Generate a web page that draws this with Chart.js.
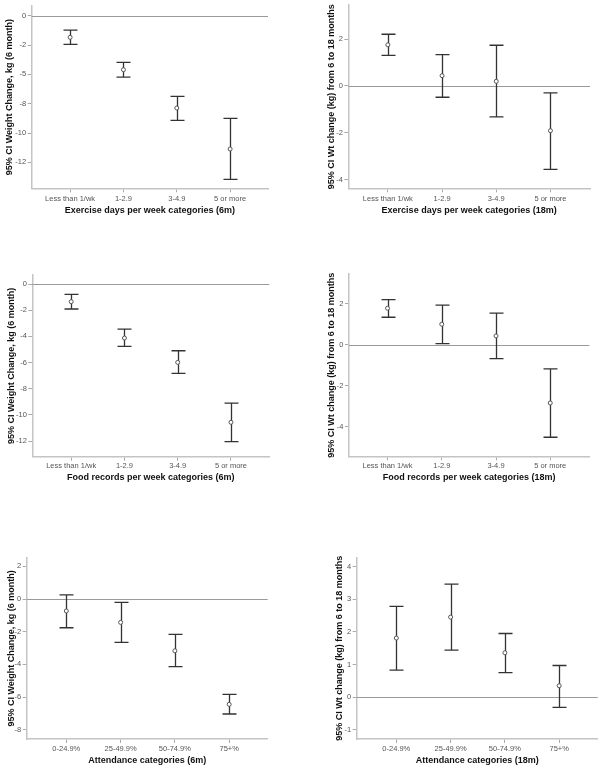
<!DOCTYPE html>
<html>
<head>
<meta charset="utf-8">
<script src="https://cdn.jsdelivr.net/npm/chart.js@4.4.0/dist/chart.umd.min.js"></script>
<style>
  body { margin: 0; background: #fff; width: 605px; height: 773px; position: relative; overflow: hidden; }
  .box { position: absolute; }
  canvas { display: block; }
</style>
</head>
<body>
<div class="box" id="b1"><canvas id="c1"></canvas></div>
<div class="box" id="b2"><canvas id="c2"></canvas></div>
<div class="box" id="b3"><canvas id="c3"></canvas></div>
<div class="box" id="b4"><canvas id="c4"></canvas></div>
<div class="box" id="b5"><canvas id="c5"></canvas></div>
<div class="box" id="b6"><canvas id="c6"></canvas></div>
<script>
// categories
var weekCats = ["Less than 1/wk", "1-2.9", "3-4.9", "5 or more"];
var attendCats = ["0-24.9%", "25-49.9%", "50-74.9%", "75+%"];

// exercise, 6 months
var exercise6mMean = [-1.84, -4.60, -7.87, -11.36];
var exercise6mLow = [-2.44, -5.23, -8.92, -13.95];
var exercise6mHigh = [-1.22, -3.97, -6.87, -8.75];

// exercise, 18 months
var exercise18mMean = [1.76, 0.44, 0.20, -1.91];
var exercise18mLow = [1.31, -0.48, -1.32, -3.56];
var exercise18mHigh = [2.21, 1.34, 1.74, -0.29];

// food records, 6 months
var food6mMean = [-1.35, -4.13, -5.99, -10.57];
var food6mLow = [-1.91, -4.76, -6.83, -12.05];
var food6mHigh = [-0.79, -3.44, -5.10, -9.10];

// food records, 18 months
var food18mMean = [1.79, 1.01, 0.44, -2.83];
var food18mLow = [1.35, 0.06, -0.67, -4.50];
var food18mHigh = [2.21, 1.94, 1.55, -1.17];

// attendance, 6 months
var attend6mMean = [-0.73, -1.43, -3.17, -6.45];
var attend6mLow = [-1.76, -2.65, -4.14, -7.04];
var attend6mHigh = [0.26, -0.20, -2.16, -5.84];

// attendance, 18 months
var attend18mMean = [1.81, 2.45, 1.36, 0.35];
var attend18mLow = [0.83, 1.44, 0.75, -0.31];
var attend18mHigh = [2.78, 3.46, 1.95, 0.97];

// y tick values and their printed labels
var exercise6mTicks = [-12.5, -10, -7.5, -5, -2.5, 0];
var exercise6mTickLabels = ["-12", "-10", "-8", "-5", "-2", "0"];
var exercise18mTicks = [-4, -2, 0, 2];
var food6mTicks = [-12, -10, -8, -6, -4, -2, 0];
var food18mTicks = [-4, -2, 0, 2];
var attend6mTicks = [-8, -6, -4, -2, 0, 2];
var attend18mTicks = [-1, 0, 1, 2, 3, 4];

var FONT = "Arial, 'Liberation Sans', sans-serif";
var TICK_SIZE = 7.5, TITLE_SIZE = 9;

function errorBars(low, high) {
  return {
    id: "errorBars",
    beforeDatasetsDraw: function (chart) {
      var ctx = chart.ctx, xs = chart.scales.x, ys = chart.scales.y, a = chart.chartArea;
      ctx.save();
      // reference line at zero
      var y0 = Math.round(ys.getPixelForValue(0)) + 0.5;
      ctx.strokeStyle = "#9a9a9a";
      ctx.lineWidth = 1.2;
      ctx.beginPath();
      ctx.moveTo(a.left, y0);
      ctx.lineTo(a.right, y0);
      ctx.stroke();
      // whiskers
      ctx.strokeStyle = "#333";
      ctx.lineWidth = 1.3;
      for (var i = 0; i < low.length; i++) {
        var px = Math.round(xs.getPixelForValue(i)) + 0.5;
        var pl = ys.getPixelForValue(low[i]);
        var ph = ys.getPixelForValue(high[i]);
        ctx.beginPath();
        ctx.moveTo(px, pl); ctx.lineTo(px, ph);
        ctx.moveTo(px - 7, pl); ctx.lineTo(px + 7, pl);
        ctx.moveTo(px - 7, ph); ctx.lineTo(px + 7, ph);
        ctx.stroke();
      }
      ctx.restore();
    }
  };
}

function makeChart(n, cats, mean, low, high, yTicks, yLabels, xTitle, yTitle, lay) {
  var box = lay.box, plot = lay.plot;
  var div = document.getElementById("b" + n);
  div.style.left = box[0] + "px";
  div.style.top = box[1] + "px";
  var canvas = document.getElementById("c" + n);
  canvas.width = box[2];
  canvas.height = box[3];

  var yAxisW = plot[0] - box[0];
  var xAxisH = box[1] + box[3] - plot[3];
  var lh = TITLE_SIZE * 1.2;
  var tickLh = TICK_SIZE * 1.2;

  new Chart(canvas.getContext("2d"), {
    type: "scatter",
    data: {
      datasets: [{
        data: mean.map(function (m, i) { return { x: i, y: m }; }),
        pointStyle: "circle",
        pointRadius: 2,
        pointHoverRadius: 2,
        borderColor: "#555",
        backgroundColor: "#fff",
        borderWidth: 1
      }]
    },
    plugins: [errorBars(low, high)],
    options: {
      responsive: false,
      animation: false,
      events: [],
      layout: {
        padding: { top: plot[1] - box[1], right: box[0] + box[2] - plot[2], left: 0, bottom: 0 }
      },
      plugins: { legend: { display: false }, tooltip: { enabled: false } },
      scales: {
        x: {
          type: "linear",
          min: lay.x[0],
          max: lay.x[1],
          afterBuildTicks: function (s) { s.ticks = cats.map(function (c, i) { return { value: i }; }); },
          afterFit: function (s) { s.height = xAxisH; s.paddingLeft = 0; s.paddingRight = 0; },
          grid: { drawOnChartArea: false, drawTicks: true, tickLength: 4, color: "#aaa" },
          border: { color: "#c4c4c4", width: 1.5 },
          ticks: {
            autoSkip: false,
            maxRotation: 0,
            padding: lay.xTickY - plot[3] - 4 - tickLh / 2,
            color: "#555",
            font: { family: FONT, size: TICK_SIZE },
            callback: function (v, i) { return cats[i]; }
          },
          title: {
            display: true,
            text: xTitle,
            color: "#111",
            font: { family: FONT, size: TITLE_SIZE, weight: "bold" },
            padding: { top: 0, bottom: box[1] + box[3] - lay.xTitleY - lh / 2 }
          }
        },
        y: {
          type: "linear",
          min: lay.y[0],
          max: lay.y[1],
          afterBuildTicks: function (s) { s.ticks = yTicks.map(function (v) { return { value: v }; }); },
          afterFit: function (s) { s.width = yAxisW; s.paddingTop = 0; s.paddingBottom = 0; },
          grid: { drawOnChartArea: false, drawTicks: true, tickLength: 4, color: "#aaa" },
          border: { color: "#c4c4c4", width: 1.5 },
          ticks: {
            padding: 1.5,
            color: "#555",
            font: { family: FONT, size: TICK_SIZE },
            callback: function (v, i) { return yLabels ? yLabels[i] : String(v); }
          },
          title: {
            display: true,
            text: yTitle,
            color: "#111",
            font: { family: FONT, size: TITLE_SIZE, weight: "bold" },
            padding: { top: lay.yTitleX - box[0] - lh / 2, bottom: 0 }
          }
        }
      }
    }
  });
}

var t6 = "95% CI Weight Change, kg (6 month)";
var t18 = "95% CI Wt change (kg) from 6 to 18 months";

makeChart(1, weekCats, exercise6mMean, exercise6mLow, exercise6mHigh,
  exercise6mTicks, exercise6mTickLabels, "Exercise days per week categories (6m)", t6,
  { box: [0, 0, 300, 220], plot: [31.7, 6, 268, 188.3], x: [-0.72, 3.71], y: [-14.71, 0.83], xTickY: 199, xTitleY: 211, yTitleX: 10 });

makeChart(2, weekCats, exercise18mMean, exercise18mLow, exercise18mHigh,
  exercise18mTicks, null, "Exercise days per week categories (18m)", t18,
  { box: [300, 0, 305, 220], plot: [348.3, 5, 590, 188.3], x: [-0.73, 3.73], y: [-4.37, 3.46], xTickY: 199, xTitleY: 211, yTitleX: 331.7 });

makeChart(3, weekCats, food6mMean, food6mLow, food6mHigh,
  food6mTicks, null, "Food records per week categories (6m)", t6,
  { box: [0, 260, 300, 230], plot: [32.3, 275, 269.3, 456.7], x: [-0.73, 3.72], y: [-13.2, 0.69], xTickY: 465.7, xTitleY: 478, yTitleX: 11.7 });

makeChart(4, weekCats, food18mMean, food18mLow, food18mHigh,
  food18mTicks, null, "Food records per week categories (18m)", t18,
  { box: [300, 260, 305, 230], plot: [349, 274, 589.3, 456.3], x: [-0.71, 3.72], y: [-5.43, 3.46], xTickY: 465.7, xTitleY: 478, yTitleX: 331.7 });

makeChart(5, attendCats, attend6mMean, attend6mLow, attend6mHigh,
  attend6mTicks, null, "Attendance categories (6m)", t6,
  { box: [0, 520, 300, 253], plot: [26.7, 557.7, 267.7, 739], x: [-0.73, 3.71], y: [-8.57, 2.53], xTickY: 748.7, xTitleY: 760.7, yTitleX: 11.7 });

makeChart(6, attendCats, attend18mMean, attend18mLow, attend18mHigh,
  attend18mTicks, null, "Attendance categories (18m)", t18,
  { box: [300, 520, 305, 253], plot: [356.7, 557.7, 597.7, 739], x: [-0.73, 3.71], y: [-1.28, 4.27], xTickY: 748.7, xTitleY: 760.7, yTitleX: 340 });
</script>
</body>
</html>
